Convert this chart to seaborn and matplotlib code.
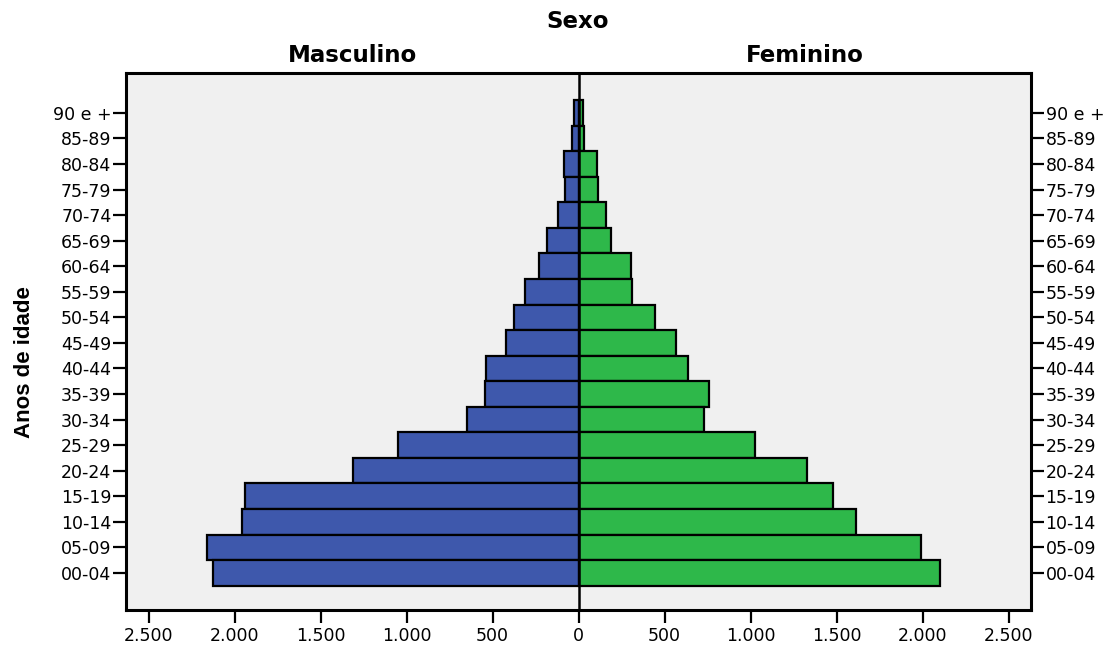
import numpy as np
import pandas as pd
import matplotlib
matplotlib.use("Agg")
import matplotlib.pyplot as plt
from matplotlib.ticker import FuncFormatter
import seaborn as sns

age_groups = ["90 e +", "85-89", "80-84", "75-79", "70-74", "65-69", "60-64",
              "55-59", "50-54", "45-49", "40-44", "35-39", "30-34", "25-29",
              "20-24", "15-19", "10-14", "05-09", "00-04"]
masculino = [25, 39, 85, 79, 122, 184, 231, 312, 376, 423, 539, 545, 651,
             1048, 1314, 1938, 1959, 2161, 2126]
feminino = [25, 31, 107, 110, 159, 188, 302, 312, 446, 568, 636, 757, 726,
            1027, 1328, 1481, 1611, 1993, 2100]
x_ticks = [-2500, -2000, -1500, -1000, -500, 0, 500, 1000, 1500, 2000, 2500]

sns.set_style("ticks")
plt.rcParams['font.family'] = ['DejaVu Sans']
plt.rcParams.update({"text.color": "black", "axes.labelcolor": "black",
                     "xtick.color": "black", "ytick.color": "black"})

df = pd.DataFrame({"idade": age_groups,
                   "masc": -np.array(masculino),
                   "fem": np.array(feminino)})

fig = plt.figure(figsize=(11.16, 6.46), dpi=100)
ax = fig.add_axes([126/1116, 1 - 610/646, (1031-126)/1116, (610-73)/646])
ax.set_facecolor("#F0F0F0")

sns.barplot(data=df, x="masc", y="idade", order=age_groups, orient="h",
            color="#3E58AC", saturation=1, width=1.0, edgecolor="black",
            linewidth=1.6, ax=ax)
sns.barplot(data=df, x="fem", y="idade", order=age_groups, orient="h",
            color="#2EB84A", saturation=1, width=1.0, edgecolor="black",
            linewidth=1.6, ax=ax)

ax.axvline(0, color="black", lw=1.8, zorder=5)
ax.set_xlim(-2632, 2630)
ax.set_ylim(len(age_groups) - 1 + 1.45, -1.56)
ax.set_xticks(x_ticks)
ax.xaxis.set_major_formatter(FuncFormatter(lambda v, p: f"{abs(int(round(v))):,}".replace(",", ".")))
ax.tick_params(axis="both", direction="out", length=9.5, width=1.6, labelsize=12.5,
               colors="black")
ax.tick_params(axis="y", right=True, labelright=True, pad=1)
ax.tick_params(axis="x", pad=3)
for s in ax.spines.values():
    s.set_visible(True)
    s.set_linewidth(2.2)
    s.set_color("black")
ax.set_xlabel("")
ax.set_ylabel("Anos de idade", fontsize=16, fontweight="bold",
              family=['Liberation Sans Narrow', 'Liberation Sans', 'DejaVu Sans'])
ax.yaxis.set_label_coords(-0.1006, 0.462)

fig.text(578/1116, 1 - 22/646, "Sexo", ha="center", va="center",
         fontsize=16.5, fontweight="bold")
fig.text(352/1116, 1 - 56/646, "Masculino", ha="center", va="center",
         fontsize=16.5, fontweight="bold")
fig.text(805/1116, 1 - 56/646, "Feminino", ha="center", va="center",
         fontsize=16.5, fontweight="bold")

fig.savefig("out.png", dpi=100, facecolor="white")
